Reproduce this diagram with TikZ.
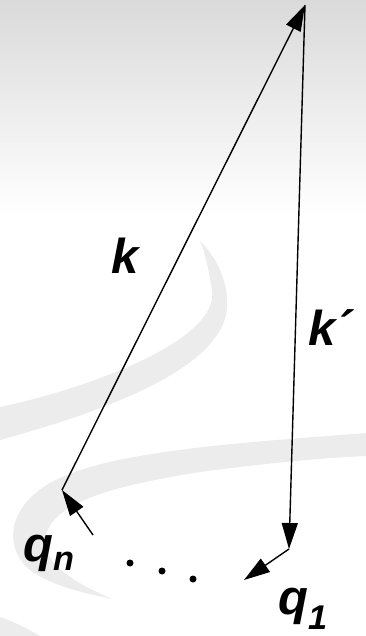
\documentclass[tikz,border=0pt]{standalone}
\usepackage{fontspec}
\setmainfont{Liberation Sans}
\usetikzlibrary{arrows.meta}

\definecolor{swoosh}{gray}{0.925}
\definecolor{topgray}{gray}{0.855}

\begin{document}
\begin{tikzpicture}[x=1pt, y=-1pt,
    vec/.style={line width=1.4pt, -{Triangle[length=26pt, width=16pt]}},
    lab/.style={font=\fontsize{49}{53}\selectfont\bfseries\itshape, inner sep=0pt, anchor=base west}]
\def\dotR{3.5pt}

\useasboundingbox (0,0) rectangle (366,636);
\shade[top color=topgray, bottom color=white] (0,0) rectangle (366,215);

\fill[swoosh] (0,407) .. controls (90,388) and (220,340) .. (212,290)
    .. controls (208,265) and (204,250) .. (200,241)
    .. controls (215,255) and (232,285) .. (226,315)
    .. controls (212,375) and (90,415) .. (0,440) -- cycle;
\fill[swoosh] (366,433) .. controls (250,442) and (120,450) .. (60,478)
    .. controls (10,500) and (0,545) .. (30,570)
    .. controls (55,588) and (90,594) .. (112,599)
    .. controls (80,585) and (40,565) .. (46,535)
    .. controls (55,500) and (120,485) .. (200,472)
    .. controls (260,464) and (320,458) .. (366,456) -- cycle;
\fill[swoosh] (0,617) .. controls (15,622) and (30,630) .. (40,636) -- (0,636) -- cycle;

\coordinate (top) at (305,5);
\coordinate (kfoot) at (62,490);
\coordinate (corner) at (289,549);
\coordinate (qone) at (244,580);
\coordinate (qntail) at (93,535);

\draw[vec] (kfoot) -- (top);
\draw[vec] (top) -- (corner);
\draw[vec] (corner) -- (qone);
\draw[vec] (qntail) -- (kfoot);

\fill (130,563) circle (\dotR);
\fill (162,571) circle (\dotR);
\fill (193,579) circle (\dotR);

\node[lab] (klab) at (111,273) {k};
\node[lab] (kplab) at (308,345) {k´};
\node[lab] (qnlab) at (23,561) {q\textsubscript{n}};
\node[lab] (qonelab) at (278,614) {q\textsubscript{1}};
\end{tikzpicture}
\end{document}
